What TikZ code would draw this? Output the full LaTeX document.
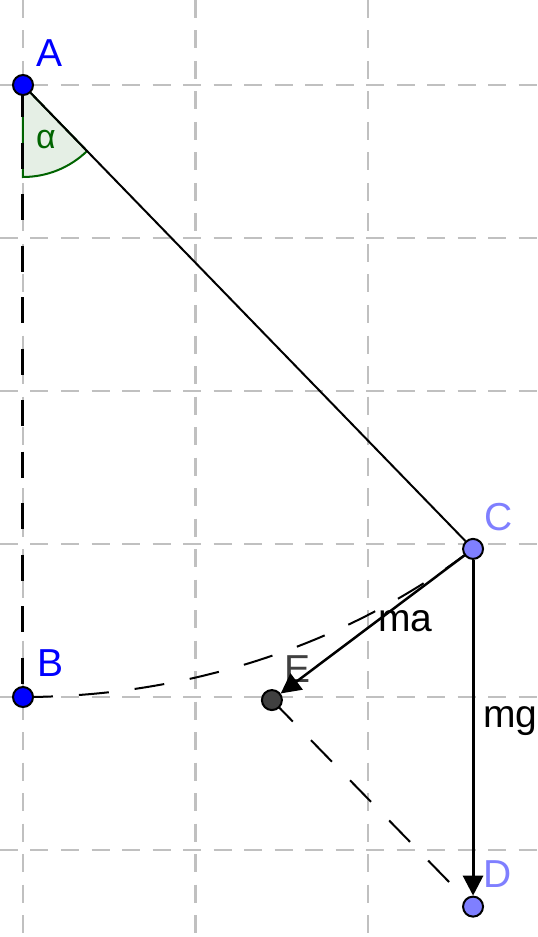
\documentclass[tikz,border=0pt]{standalone}
\usepackage{fontspec}
\setmainfont{Liberation Sans}
\usepackage{tikz}
\usetikzlibrary{arrows.meta,positioning,calc,backgrounds}
\definecolor{ptblue}{HTML}{0000FF}
\definecolor{ptlight}{HTML}{7F7FFF}
\definecolor{ptgray}{HTML}{404040}
\definecolor{anggreen}{HTML}{006400}
\definecolor{gridgray}{HTML}{C0C0C0}
\tikzset{
  >={Triangle[length=20pt,width=20pt]},
  pnt/.style={circle,draw=black,line width=2pt,inner sep=0pt,minimum size=20pt},
  lab/.style={font=\fontsize{39}{41}\selectfont,inner sep=0pt},
  gridline/.style={draw=gridgray,line width=2.5pt,dash pattern=on 18pt off 12.5pt},
  seg/.style={draw=black,line width=2pt},
  vec/.style={->,draw=black,line width=2.5pt},
  dline/.style={draw=black,line width=2pt,dash pattern=on 30pt off 26pt},
}

\begin{document}
\begin{tikzpicture}[x=172.5pt,y=153pt]
\useasboundingbox (-0.1333,0.5556) rectangle (2.9855,-5.5686);
% points
\node[pnt,fill=ptblue] (A) at (0,0) {};
\node[pnt,fill=ptblue] (B) at (0,-4) {};
\node[pnt,fill=ptlight] (C) at (2.609,-3.032) {};
\node[pnt,fill=ptlight] (D) at (2.609,-5.37) {};
\node[pnt,fill=ptgray] (E) at (1.443,-4.02) {};
\begin{scope}[on background layer]
% grid
\foreach \gx in {0,1,2} \draw[gridline] (\gx,0.5556) -- (\gx,-5.5686);
\foreach \gy in {0,-1,...,-5} \draw[gridline] (-0.1333,\gy) -- (2.9855,\gy);
% angle alpha
\filldraw[draw=anggreen,fill=anggreen!10,line width=2pt] (A.center) -- ++(-90:92pt) arc[start angle=-90,end angle=-45.87,radius=92pt] -- cycle;
\draw[dline,line width=3pt,dash pattern=on 26pt off 25.5pt,dash phase=45.5pt] (A.center) -- (B.center);
\draw[seg] (A) -- (C);
\draw[dline] (B.center) arc[start angle=-90,end angle=-49.3,radius=4];
\draw[dline] (E.center) -- (D.center);
\node[lab,text=ptgray] (labE) at (1.591,-3.820) {E};
\draw[vec] (C) -- (E);
\draw[vec,line width=3pt] (C) -- (D);
\end{scope}
% labels
\node[lab,text=ptblue] (labA) at (0.151,0.209) {A};
\node[lab,text=ptblue] (labB) at (0.162,-3.778) {B};
\node[lab,text=ptlight] (labC) at (2.759,-2.824) {C};
\node[lab,text=ptlight] (labD) at (2.754,-5.157) {D};
\node[lab,anchor=base west] (ma) at (2.058,-3.575) {ma};
\node[lab,anchor=base west] (mg) at (2.667,-4.196) {mg};
\node[lab,text=anggreen,anchor=base west,font=\fontsize{34}{36}\selectfont] (alpha) at (0.075,-0.412) {α};
\end{tikzpicture}
\end{document}
